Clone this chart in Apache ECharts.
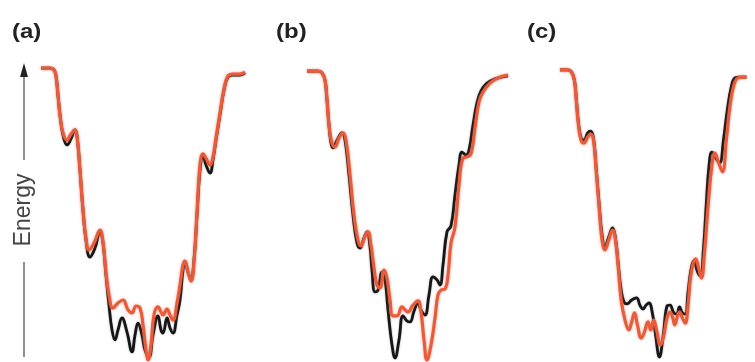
<!DOCTYPE html>
<html>
<head>
<meta charset="utf-8">
<script src="https://cdn.jsdelivr.net/npm/echarts@6/dist/echarts.min.js"></script>
<style>
  html, body { margin: 0; padding: 0; background: #fff; }
  #chart { width: 755px; height: 362px; }
</style>
</head>
<body>
<div id="chart"></div>
<script>
// Panel labels
const panelLabels = ['(a)', '(b)', '(c)'];
const axisTitle = 'Energy';

// Energy landscapes: [reaction coordinate, energy] pairs (arbitrary units, 0-100)
const landscapeA_black = [[0,97.3],[4.5,97.3],[6.5,96.7],[7.5,94.7],[8.5,88.3],[9.5,81.7],[11,75],[13,71.7],[15,73.7],[17,76.7],[18,74.7],[19.5,63.3],[21,50],[22.5,40],[24.5,34.3],[27,37.3],[29.5,42.7],[31,39],[32.5,28.3],[34,18.3],[35.5,10],[37,6.7],[38.5,10],[40.5,14],[43,9.3],[45.5,2.7],[47,8.3],[48.5,12.3],[50.5,8.3],[52,3.3],[54,1],[56,8.3],[58.5,14.7],[60,10],[61,9],[63,14],[64.5,10.7],[66,9],[68,15],[69.5,20],[71,30],[72,32.7],[73.5,29.3],[75,26.7],[76.5,33.3],[78,48.3],[79.5,63.3],[81,68],[82.5,65],[84.5,62.3],[86,66.7],[87.5,73.3],[89.5,81.7],[91.5,90],[93.5,94.3],[96,95],[99.5,95],[102,95.7]];
const landscapeA_red = [[0,97.3],[4.5,97.3],[6.5,96.7],[7.5,94.7],[8.5,88.3],[9.5,81.7],[11,75.7],[13,73.3],[15,75.3],[17,76.7],[18,74.7],[19.5,63.3],[21,50],[22.5,40.7],[24,36.7],[26.5,39],[29.5,43.3],[31,39.3],[32.5,29.3],[34,21.7],[36,17.3],[38.5,19],[41,20],[43.5,16.7],[45.5,15.7],[47.5,18],[49.5,17.3],[51,11.7],[52.5,3.3],[53.5,0],[55,5],[56.5,15],[58.5,17.7],[60,16],[61,15],[63,17],[64.5,15],[66,13.3],[68,19],[69.5,25],[71,31.7],[72,33],[73.5,29.3],[75,26.3],[76.5,32.7],[78,49],[79.5,65],[81,68.7],[82.5,67.3],[84.5,65],[86,67.7],[87.5,74],[89.5,82.3],[91.5,90.3],[93.5,94.7],[96,95.3],[99.5,95.3],[102,96]];

const landscapeB_black = [[0,96.3],[5.5,96.3],[7.5,95.7],[9,93.3],[10,86.7],[11,78.3],[12,72.3],[13,70.7],[15,73.3],[17.5,75.7],[19,73.3],[21,61.7],[23,48.3],[25,39],[26.5,37.3],[28.5,40.7],[30,42.7],[31.5,37.7],[32.5,30],[34,22.7],[35.5,23.3],[37.5,29.3],[39,26.7],[40.5,16.7],[42.5,5],[44,0.7],[46,6.7],[48,14.7],[50,13],[51.5,12.7],[53.5,16.3],[55.5,19],[57,16.7],[59,15],[61,21.7],[63,27.7],[65,26.7],[66.5,25],[68,31.7],[70,42.7],[72,44.7],[74,55],[76,65],[77.5,69.3],[79.5,68.3],[81,70],[83,78.3],[85,85.7],[87,89.7],[90,92.3],[94,93.7],[100.5,94.7]];
const landscapeB_red = [[0,96.3],[5.5,96.3],[7.5,95.7],[9,93.3],[10,86.7],[11,78.3],[12.5,72.3],[14,71],[16,74],[18,75.7],[19.5,73.3],[21.5,61.7],[23.5,48.3],[25.5,40],[27,38],[29,41.3],[30.5,42.7],[32,38.3],[33.5,30.7],[35,25],[36.5,24],[38.5,30],[40,27.3],[41.5,20],[43,14.7],[45,14.7],[47.5,17.7],[49,16.7],[50.5,16],[53,18.3],[55.5,19.7],[57,16],[58.5,6.7],[60,0],[62,5],[64,14],[65.5,21.7],[67,23.3],[69,23.7],[70.5,28.3],[72,39],[74,44.3],[76,58.3],[78,67.3],[80,67.7],[82,68.7],[84,77.3],[86,86],[88,89.3],[91.5,92.3],[95.5,94],[100.5,95]];

const landscapeC_black = [[0,96.7],[4,96.7],[6,96],[7.5,93.3],[8.5,87.3],[9.5,80],[11,74],[12.5,73.3],[14.5,75.7],[16,76.3],[17.5,74],[19,63.3],[20.5,51.7],[22,41.7],[23.5,37.7],[25.5,41],[27.5,44],[29,40.7],[30.5,31.7],[32,23.3],[33.5,19.3],[35,18.7],[37.5,20],[40,20.7],[42,18],[43.5,17],[45,18.3],[46.5,19],[48.5,15],[50,8.3],[52,1],[54,8.3],[56,18],[57.5,18.3],[59.5,15.7],[61,15.3],[62.5,17.7],[64,15.7],[65.5,15.3],[67,22.7],[68.5,30],[70,33],[72,29.3],[73.5,28],[75,36.7],[76.5,51.7],[78,65],[79.5,69.3],[81.5,67.3],[83.5,65.7],[85.5,73.3],[87.5,83.3],[89.5,90.7],[91.5,94],[94,94.3],[97.5,94.3]];
const landscapeC_red = [[0,96.7],[4,96.7],[6,96],[7.5,93.3],[8.5,86.7],[9.5,79.3],[11,73.3],[12.5,72.3],[14.5,74.3],[16,75.3],[17.5,73.3],[19,62.7],[20.5,50.7],[22,40],[23.5,36.7],[25.5,40],[27.5,43.3],[29,40],[30.5,30.7],[32,20],[34,13.3],[36,10],[37.5,12.7],[39,15.7],[40.5,11.7],[42.5,7.3],[44,9],[46,12.7],[47.5,10],[49,13.3],[50.5,10],[52.5,5],[54,7.3],[56,14],[57.5,16],[59,14],[60,11.7],[61.5,14.7],[62.5,16],[64,14],[65.5,12.3],[67,18.3],[68.5,28.3],[71,33.7],[72.5,30.7],[74,27.3],[75.5,35],[77.5,51.7],[79.5,65],[81,69],[83,65.7],[85,62.7],[87,73.3],[89,85],[91,91.7],[93,94],[95.5,94.3],[97.5,94.3]];

const panels = [
  { left: 41,  black: landscapeA_black, red: landscapeA_red },
  { left: 307, black: landscapeB_black, red: landscapeB_red },
  { left: 560, black: landscapeC_black, red: landscapeC_red }
];

const BLACK = '#161616';
const RED = '#e85c3c';

const grids = [], xAxes = [], yAxes = [], series = [];
panels.forEach((p, i) => {
  grids.push({ left: p.left, top: 60, width: 204, height: 300 });
  xAxes.push({ type: 'value', gridIndex: i, min: 0, max: 102, show: false });
  yAxes.push({ type: 'value', gridIndex: i, min: 0, max: 100, show: false });
  series.push({
    type: 'line', xAxisIndex: i, yAxisIndex: i, data: p.black,
    showSymbol: false, smooth: 0.45, silent: true, clip: false,
    lineStyle: { color: BLACK, width: 2.8, shadowColor: 'rgba(0,0,0,0.35)', shadowBlur: 2 }, z: 2
  });
  series.push({
    type: 'line', xAxisIndex: i, yAxisIndex: i, data: p.red,
    showSymbol: false, smooth: 0.45, silent: true, clip: false,
    lineStyle: { color: RED, width: 3.2, shadowColor: 'rgba(232,92,60,0.5)', shadowBlur: 3 }, z: 3
  });
});

const labelX = [12, 276, 527];
const graphic = panelLabels.map((t, i) => ({
  type: 'text', left: labelX[i], top: 22,
  style: { text: t, font: 'bold 20px "Liberation Sans", Arial, sans-serif', fill: '#222' },
  scaleX: 1.2
}));

// Energy axis: arrow-headed vertical line interrupted by its title
graphic.push(
  { type: 'line', shape: { x1: 24, y1: 74, x2: 24, y2: 160 }, style: { stroke: '#444', lineWidth: 1.2 } },
  { type: 'line', shape: { x1: 24, y1: 262, x2: 24, y2: 357 }, style: { stroke: '#444', lineWidth: 1.2 } },
  { type: 'polygon', shape: { points: [[24, 63], [20, 77], [28, 77]] }, style: { fill: '#222' } },
  {
    type: 'text', x: 12, y: 210, rotation: Math.PI / 2,
    style: { text: axisTitle, font: '23px "Liberation Sans", Arial, sans-serif', fill: '#444',
             align: 'center', verticalAlign: 'top' }
  }
);

const chart = echarts.init(document.getElementById('chart'), null, { renderer: 'canvas' });
chart.setOption({
  animation: false,
  backgroundColor: '#fff',
  grid: grids, xAxis: xAxes, yAxis: yAxes, series, graphic
});
</script>
</body>
</html>
